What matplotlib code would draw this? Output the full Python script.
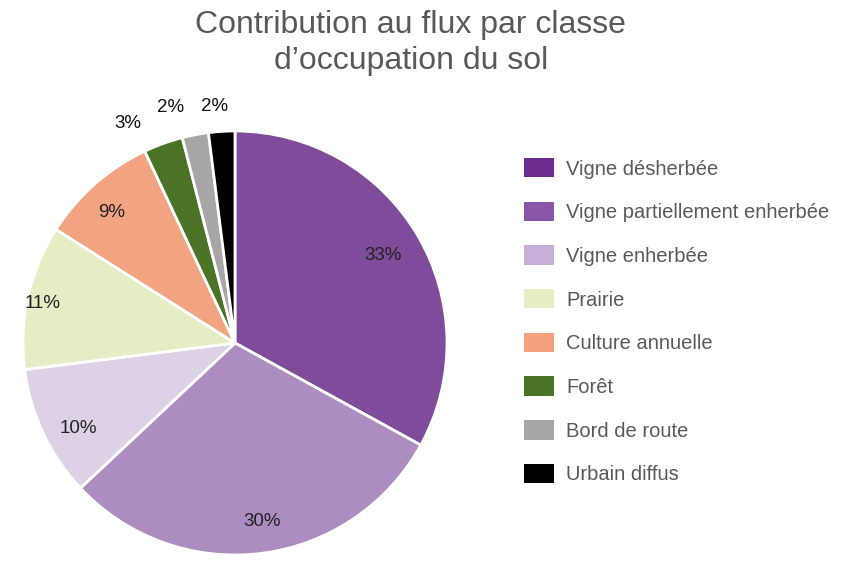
import matplotlib.pyplot as plt
import numpy as np
from matplotlib.patches import Patch

plt.rcParams['font.family'] = ['Liberation Sans', 'DejaVu Sans']

# data
classes = ["Vigne désherbée", "Vigne partiellement enherbée", "Vigne enherbée",
           "Prairie", "Culture annuelle", "Forêt", "Bord de route", "Urbain diffus"]
shares = [33, 30, 10, 11, 9, 3, 2, 2]

# slice colours and (slightly stronger) legend swatch colours
pie_colors = ["#7f4b9a", "#ad8dc1", "#ddd1e6", "#e6edc4", "#f2a380", "#4a7325", "#a6a6a6", "#000000"]
leg_colors = ["#6b2b8f", "#8a56a8", "#c6afd8", "#e6efc4", "#f4a27e", "#4a7325", "#a6a6a6", "#000000"]
# label radius (fraction of pie radius) and small pixel nudges, Excel-style placement
label_dist = [0.81, 0.84, 0.84, 0.93, 0.85, 1.10, 1.13, 1.12]
label_nudge = [(0, 0), (5, -2), (5, -10), (0, -4), (-4, -5), (-28, 0), (-20, 0), (-6, 0)]

fig = plt.figure(figsize=(8.45, 5.62), dpi=100)
ax = fig.add_axes([23 / 845, 7 / 562, 424 / 845, 424 / 562])

wedges, _ = ax.pie(shares, colors=pie_colors, startangle=90, counterclock=False,
                   radius=1, wedgeprops=dict(edgecolor="white", linewidth=2))
ax.set_xlim(-1, 1)
ax.set_ylim(-1, 1)
ax.set_aspect("auto")
ax.axis("off")

for w, v, d, nd in zip(wedges, shares, label_dist, label_nudge):
    ang = np.deg2rad((w.theta1 + w.theta2) / 2)
    ax.annotate(f"{v}%", (d * np.cos(ang), d * np.sin(ang)), xytext=nd,
                textcoords="offset pixels", ha="center", va="center",
                fontsize=13.5, color="#222222" if d < 1 else "#111111",
                annotation_clip=False)

fig.text(0.486, 0.982, "Contribution au flux par classe\nd’occupation du sol",
         ha="center", va="top", fontsize=23, color="#595959", linespacing=1.25)

handles = [Patch(facecolor=c, edgecolor="none") for c in leg_colors]
fig.legend(handles, classes, loc="upper left", bbox_to_anchor=(506 / 845, 1 - 140 / 562),
           frameon=False, fontsize=14.5, labelcolor="#595959", handlelength=1.5,
           handleheight=1.1, handletextpad=0.6, labelspacing=1.15)

fig.savefig("out.png", dpi=100)
